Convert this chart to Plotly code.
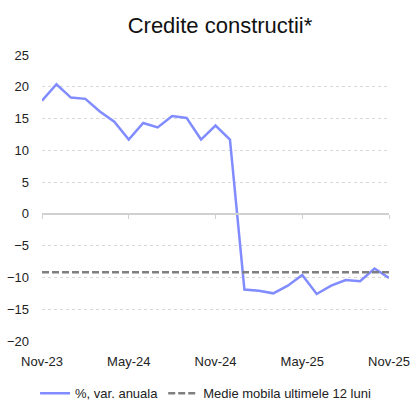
import plotly.graph_objects as go

months = ["Nov-23", "Dec-23", "Jan-24", "Feb-24", "Mar-24", "Apr-24", "May-24",
          "Jun-24", "Jul-24", "Aug-24", "Sep-24", "Oct-24", "Nov-24", "Dec-24",
          "Jan-25", "Feb-25", "Mar-25", "Apr-25", "May-25", "Jun-25", "Jul-25",
          "Aug-25", "Sep-25", "Oct-25", "Nov-25"]
var_anuala = [17.8, 20.4, 18.3, 18.1, 16.1, 14.5, 11.7, 14.3, 13.6, 15.4, 15.1,
              11.7, 13.9, 11.7, -11.9, -12.1, -12.5, -11.3, -9.6, -12.6, -11.3,
              -10.4, -10.6, -8.6, -10.1]
medie_mobila = [-9.2] * len(months)
tick_labels = ["Nov-23", "May-24", "Nov-24", "May-25", "Nov-25"]

FONT = "Arial, Liberation Sans, sans-serif"
idx = list(range(len(months)))
tickvals = [months.index(t) for t in tick_labels]

fig = go.Figure()
fig.add_trace(go.Scatter(x=idx, y=var_anuala, mode="lines",
                         name="%, var. anuala",
                         line=dict(color="rgb(128,140,255)", width=2.5)))
fig.add_trace(go.Scatter(x=idx, y=medie_mobila, mode="lines",
                         name="Medie mobila ultimele 12 luni", xaxis="x2",
                         line=dict(color="#7f7f7f", width=2.5, dash="7px,3px")))

fig.update_layout(
    width=411, height=401,
    margin=dict(l=42, r=22, t=55, b=60, autoexpand=False),
    paper_bgcolor="white", plot_bgcolor="white",
    font=dict(family=FONT, size=13, color="#222222"),
    title=dict(text="Credite constructii*", x=220 / 411, xanchor="center", xref="container",
               y=1 - 25 / 401, yanchor="middle", yref="container",
               font=dict(size=22, color="#111111", family=FONT)),
    showlegend=True,
    legend=dict(orientation="h", x=-0.02, xanchor="left", xref="paper",
                yref="paper", y=-0.183, yanchor="middle",
                font=dict(size=13, color="#222222"),
                tracegroupgap=0),
    xaxis=dict(range=[0, len(months) - 1], tickvals=tickvals, ticktext=tick_labels,
               showgrid=False, zeroline=False, showline=False,
               ticks="outside", ticklen=8, tickcolor="rgba(0,0,0,0)",
               tickfont=dict(size=13, color="#222222")),
    xaxis2=dict(range=[0, len(months) - 1], tickvals=tickvals, overlaying="x",
                anchor="free", position=20 / 45, side="bottom",
                showgrid=False, zeroline=False, showline=True, linecolor="#d0d0d0",
                linewidth=1.5, ticks="outside", ticklen=4, tickcolor="#d0d0d0",
                showticklabels=False),
    yaxis=dict(range=[-20, 25], dtick=5, tick0=0, showgrid=True, gridcolor="#d9d9d9",
               griddash="dot", gridwidth=1, zeroline=False, showline=False,
               ticks="", ticklabelstandoff=12,
               tickfont=dict(size=13, color="#222222")),
)

fig.write_html("out.html", config={"displayModeBar": False},
               post_script="document.body.style.margin='0';document.body.style.padding='0';")
